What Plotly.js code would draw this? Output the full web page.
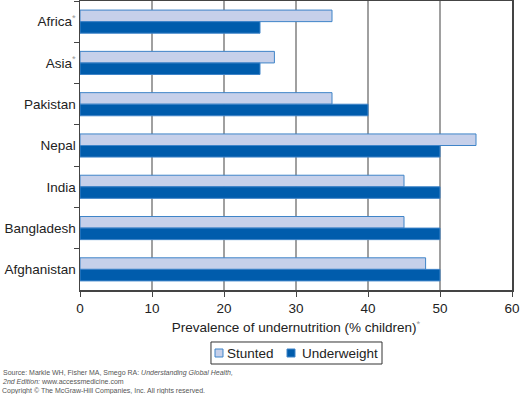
<!DOCTYPE html>
<html><head><meta charset="utf-8">
<script src="https://cdn.plot.ly/plotly-3.0.1.min.js"></script>
<style>html,body{margin:0;padding:0;background:#fff}#chart{width:520px;height:394px}</style>
</head><body><div id="chart"></div>
<script>
var categories = ["Africa<sup><span style='color:#999'>*</span></sup>", "Asia<sup><span style='color:#999'>*</span></sup>", "Pakistan", "Nepal", "India", "Bangladesh", "Afghanistan"];
var stunted = [35, 27, 35, 55, 45, 45, 48];
var underweight = [25, 25, 40, 50, 50, 50, 50];
var xTicks = [0, 10, 20, 30, 40, 50, 60];
var seriesNames = ['Stunted', 'Underweight'];

var FAM = 'Arial, Liberation Sans, Helvetica, sans-serif';
var fills = ['#c6d0ea', '#005cac'];
var edge = '#3f84c8';
var traces = [
  {type:'bar', orientation:'h', name:seriesNames[0], y:categories, x:stunted,
   marker:{color:fills[0], line:{color:edge, width:1}}},
  {type:'bar', orientation:'h', name:seriesNames[1], y:categories, x:underweight,
   marker:{color:fills[1], line:{color:edge, width:1}}}
];

// custom legend box (paper coords)
var shapes = [
  {type:'rect', xref:'paper', yref:'paper', x0:0.3032, x1:0.6991, y0:-0.2561, y1:-0.1799,
   line:{color:'#333', width:1}, fillcolor:'rgba(0,0,0,0)'},
  {type:'rect', xref:'paper', yref:'paper', x0:0.3125, x1:0.3310, y0:-0.2318, y1:-0.2042,
   line:{color:edge, width:1}, fillcolor:fills[0]},
  {type:'rect', xref:'paper', yref:'paper', x0:0.4792, x1:0.4977, y0:-0.2318, y1:-0.2042,
   line:{color:edge, width:1}, fillcolor:fills[1]}
];
var legendText = [
  {xref:'paper', yref:'paper', x:0.3356, y:-0.218, xanchor:'left', yanchor:'middle', showarrow:false,
   font:{family:FAM, size:13.5, color:'#222'}, text:seriesNames[0]},
  {xref:'paper', yref:'paper', x:0.5093, y:-0.218, xanchor:'left', yanchor:'middle', showarrow:false,
   font:{family:FAM, size:13.5, color:'#222'}, text:seriesNames[1]}
];

var layout = {
  width:520, height:394,
  margin:{l:80, r:8, t:1, b:104},
  paper_bgcolor:'#fff', plot_bgcolor:'#fff',
  font:{family:FAM, size:13, color:'#222'},
  barmode:'group', bargap:0.44, bargroupgap:0,
  showlegend:false,
  xaxis:{range:[0,60], tickvals:xTicks, ticktext:xTicks.map(String),
    showgrid:true, gridcolor:'#a0a0a0', gridwidth:1.5,
    showline:true, linecolor:'#444', linewidth:1.5, mirror:true,
    ticks:'outside', ticklen:5, tickcolor:'#444', zeroline:false,
    tickfont:{family:FAM, size:13.5, color:'#222'},
    title:{text:"Prevalence of undernutrition (% children)<sup><span style='color:#999'>*</span></sup>",
      font:{family:FAM, size:13.5, color:'#222'}, standoff:8}},
  yaxis:{type:'category', autorange:'reversed', tickson:'boundaries',
    showline:true, linecolor:'#444', linewidth:1.5, mirror:true,
    ticks:'outside', ticklen:5, tickcolor:'#444', showgrid:false,
    tickfont:{family:FAM, size:13.5, color:'#222'}},
  shapes:shapes,
  annotations:legendText.concat([
    {xref:'paper', yref:'paper', x:-0.185, y:-0.265, xanchor:'left', yanchor:'top', showarrow:false, align:'left',
     font:{family:FAM, size:7, color:'#555'},
     text:'Source: Markle WH, Fisher MA, Smego RA: <i>Understanding Global Health,</i><br><i>2nd Edition:</i> www.accessmedicine.com'},
    {xref:'paper', yref:'paper', x:-0.185, y:-0.33, xanchor:'left', yanchor:'top', showarrow:false, align:'left',
     font:{family:FAM, size:7, color:'#555'},
     text:'Copyright © The McGraw-Hill Companies, Inc. All rights reserved.'}
  ])
};
Plotly.newPlot('chart', traces, layout, {displayModeBar:false, staticPlot:true});
</script></body></html>
